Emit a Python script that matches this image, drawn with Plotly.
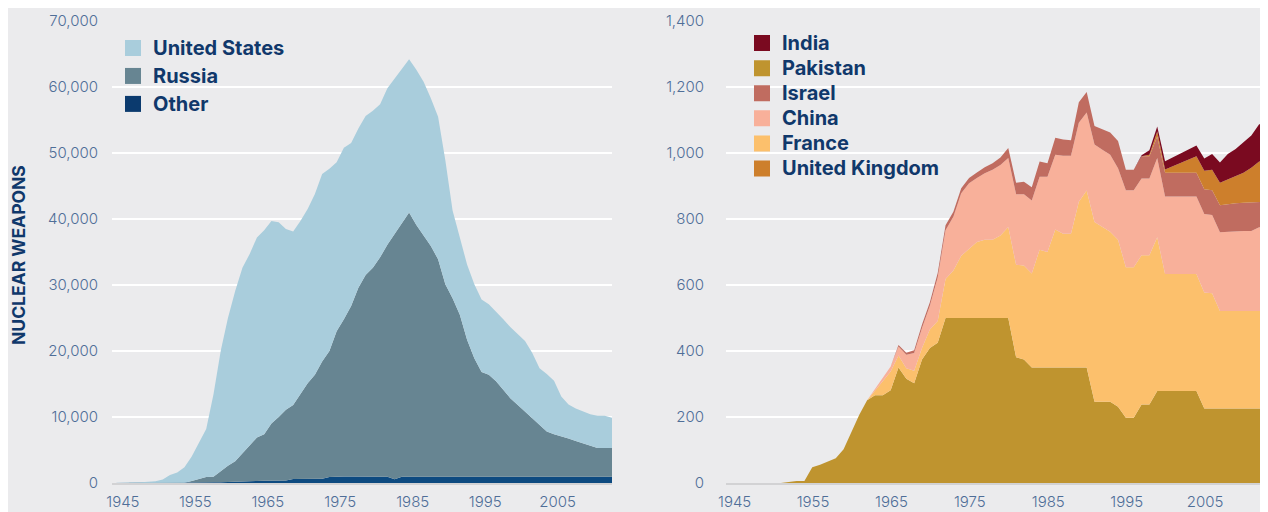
import plotly.graph_objects as go

# ---------------- data ----------------
years = list(range(1945, 2015))

# Left panel: global stockpile (warheads)
us = [6, 10, 30, 50, 120, 200, 260, 520,
      1190, 1580, 2350, 3700, 5450, 7300, 12450, 18200,
      22400, 25800, 28100, 28900, 30300, 30900, 30700, 29500,
      27400, 26300, 26200, 26400, 27400, 28400, 27600, 25600,
      26000, 24700, 24100, 24100, 23800, 23200, 23700, 23600,
      23400, 23200, 23500, 23300, 22400, 21600, 18800, 13300,
      11700, 11400, 11200, 11000, 10700, 10600, 10700, 10800,
      10800, 10700, 9900, 8600, 8700, 8100, 6000, 5150,
      4950, 4800, 4800, 4900, 4900, 4600]
russia = [0, 0, 0, 0, 0, 0, 0, 0, 0, 0,
          20, 260, 490, 820, 850, 1670,
          2420, 3050, 4200, 5500, 6580, 7070, 8660, 9650,
          10720, 11200, 12880, 14480, 15760, 17750, 19100, 22000,
          23800, 25800, 28600, 30500, 31600, 33200, 35150, 37150,
          38350, 40050, 38150, 36550, 34950, 32950, 29150, 27050,
          24550, 20750, 17950, 15850, 15450, 14450, 13150, 11850,
          10850, 9850, 8850, 7850, 6850, 6450, 6150, 5800,
          5400, 5050, 4650, 4350, 4350, 4350]
other = [0, 0, 0, 0, 0, 0, 0, 0,
         10, 20, 30, 40, 60, 80, 100, 130, 180,
         250, 300, 300, 320, 330, 340, 350, 380,
         600, 620, 620, 640, 650,
         900, 1000, 1000, 1000, 1000, 1000, 1000, 1000,
         950, 550] + [950] * 30

# Right panel: smaller arsenals (labels as shown in the chart's legend)
pakistan_lbl = [0, 0, 0, 0, 0, 0, 0, 0,
                3, 6, 6, 48, 55, 64, 75, 102,
                155, 207, 251, 266, 266, 281, 350, 316,
                302, 374, 409, 425, 500, 500, 500, 500,
                500, 500, 500, 500, 500, 381, 374, 350,
                350, 350, 350, 350, 350, 350, 350, 246,
                246, 246, 231, 198, 198, 238, 238, 279,
                279, 279, 279, 279, 279, 226, 226, 226,
                226, 226, 226, 226, 226, 226]
france_lbl = [0] * 19 + [14, 44, 57, 36, 32, 38, 35, 56, 66,
                         118, 144, 189, 210, 230, 237, 237, 250, 276,
                         280, 285, 285, 357, 350, 418, 405, 405, 502,
                         536, 545, 530, 515, 506, 456, 456, 452, 452,
                         466, 354, 354, 354, 354, 354, 351, 349, 295,
                         295, 295, 295, 295, 295, 295]
china_lbl = [0] * 19 + [5, 10, 15, 28, 41, 54, 61, 72, 132,
                        148, 163, 189, 198, 194, 202, 212, 214, 209,
                        214, 216, 221, 221, 228, 227, 237, 237, 240,
                        237, 235, 234, 234, 217, 233, 233, 233, 233,
                        240, 235, 235, 235, 235, 235, 238, 237, 239,
                        241, 243, 243, 243, 254, 257]
israel_lbl = [0] * 22 + [4, 6, 8, 10, 11, 13, 15, 15,
                         15, 16, 17, 18, 20, 22, 30, 35,
                         38, 40, 46, 41, 51, 49, 47, 62,
                         62, 56, 62, 67, 82, 62, 62, 67,
                         67, 65, 72, 72, 72, 72, 72, 75,
                         75, 82, 84, 84, 85, 86, 77, 75]
uk_lbl = [0] * 54 + [5, 15, 10, 20, 30, 40, 50, 56,
                     62, 68, 74, 82, 91, 105, 122, 123]
india_lbl = [0] * 53 + [3, 13, 15, 25, 27, 29, 31, 33,
                        37, 48, 61, 77, 82, 92, 98, 113, 111]

decade_labels = ["1945", "1955", "1965", "1975", "1985", "1995", "2005"]
left_yticks = [0, 10000, 20000, 30000, 40000, 50000, 60000, 70000]
right_yticks = [0, 200, 400, 600, 800, 1000, 1200, 1400]

# ---------------- style ----------------
BG = "#EBEBED"
NAVY = "#10386B"
TICK = "#4F6E98"
W, H = 1268, 512
OFF = 8  # page body margin: figure pixel = page pixel - OFF

def fx(px):
    return (px - OFF) / W

def fy(py):
    return (H - (py - OFF)) / H

left_series = [("Other", other, "#0D4A80", "#0B3A6E"),
               ("Russia", russia, "#678592", "#678592"),
               ("United States", us, "#A9CDDC", "#A9CDDC")]
right_series = [("Pakistan", pakistan_lbl, "#BF942F"),
                ("France", france_lbl, "#FCC06C"),
                ("China", china_lbl, "#F8B09A"),
                ("Israel", israel_lbl, "#C06C60"),
                ("United Kingdom", uk_lbl, "#CD7F2C"),
                ("India", india_lbl, "#7A0A20")]

fig = go.Figure()

for name, vals, col, _ in left_series:
    fig.add_trace(go.Scatter(x=years, y=vals, name=name, stackgroup="L",
                             mode="lines", line=dict(width=0, color=col),
                             fillcolor=col, showlegend=False,
                             xaxis="x", yaxis="y", hoverinfo="x+y+name"))
for name, vals, col in right_series:
    fig.add_trace(go.Scatter(x=years, y=vals, name=name, stackgroup="R",
                             mode="lines", line=dict(width=0, color=col),
                             fillcolor=col, showlegend=False,
                             xaxis="x2", yaxis="y2", hoverinfo="x+y+name"))

LEG_TXT = '<span style="font-size:20px">%s</span>'

# legend swatches (square markers)
for name in ["United States", "Russia", "Other"]:
    sw = [s[3] for s in left_series if s[0] == name][0]
    fig.add_trace(go.Scatter(x=[None], y=[None], name=LEG_TXT % name, mode="markers",
                             marker=dict(symbol="square", size=16, color=sw),
                             legend="legend", legendgroup=name,
                             xaxis="x", yaxis="y", hoverinfo="skip"))
right_legend_order = ["India", "Pakistan", "Israel", "China", "France", "United Kingdom"]
for name in right_legend_order:
    sw = [s[2] for s in right_series if s[0] == name][0]
    fig.add_trace(go.Scatter(x=[None], y=[None], name=LEG_TXT % name, mode="markers",
                             marker=dict(symbol="square", size=16, color=sw),
                             legend="legend2", legendgroup=name,
                             xaxis="x2", yaxis="y2", hoverinfo="skip"))

tickfont = dict(family="Inter", size=15, color=TICK, weight=300)

ydom = [fy(483), fy(21)]
xdom1 = [fx(112), fx(612)]
xdom2 = [fx(726), fx(1267)]

common_x = dict(range=[1945, 2014], showgrid=False, zeroline=False,
                showline=True, linecolor="#D2D2D4", linewidth=2,
                ticks="", tickfont=tickfont, fixedrange=True, automargin=False)
common_y = dict(showgrid=True, gridcolor="#FFFFFF", gridwidth=2,
                zeroline=False, showline=False, ticks="", automargin=False,
                tickfont=tickfont, tickformat=",", fixedrange=True)

fig.update_layout(
    template="none",
    width=W, height=H,
    margin=dict(l=0, r=0, t=0, b=0, pad=0, autoexpand=False),
    paper_bgcolor=BG, plot_bgcolor=BG,
    font=dict(family="Inter", color=NAVY),
    xaxis=dict(domain=xdom1, anchor="y",
               tickvals=[int(t) + 1.5 for t in decade_labels],
               ticktext=decade_labels, ticklabelstandoff=4, **common_x),
    yaxis=dict(domain=ydom, anchor="x", range=[0, 70000],
               tickvals=left_yticks, ticklabelstandoff=13, **common_y),
    xaxis2=dict(domain=xdom2, anchor="y2",
                tickvals=[int(t) + 1.1 for t in decade_labels],
                ticktext=decade_labels, ticklabelstandoff=4, **common_x),
    yaxis2=dict(domain=ydom, anchor="x2", range=[0, 1400],
                tickvals=right_yticks, ticklabelstandoff=21, **common_y),
    legend=dict(x=fx(113), y=fy(29), xanchor="left", yanchor="top",
                bgcolor="rgba(0,0,0,0)",
                font=dict(family="Inter", size=19.2, color=NAVY, weight=700),
                tracegroupgap=0, traceorder="normal",
                itemclick=False, itemdoubleclick=False),
    legend2=dict(x=fx(742), y=fy(25.5), xanchor="left", yanchor="top",
                 bgcolor="rgba(0,0,0,0)",
                 font=dict(family="Inter", size=17, color=NAVY, weight=700),
                 tracegroupgap=0, traceorder="normal",
                 itemclick=False, itemdoubleclick=False),
    annotations=[dict(text="<b>NUCLEAR WEAPONS</b>", x=fx(18), y=fy(255),
                      xref="paper", yref="paper", textangle=-90, showarrow=False,
                      font=dict(family="Inter", size=17.5, color=NAVY),
                      xanchor="center", yanchor="middle")],
    showlegend=True,
)

fig.write_html("out.html")
